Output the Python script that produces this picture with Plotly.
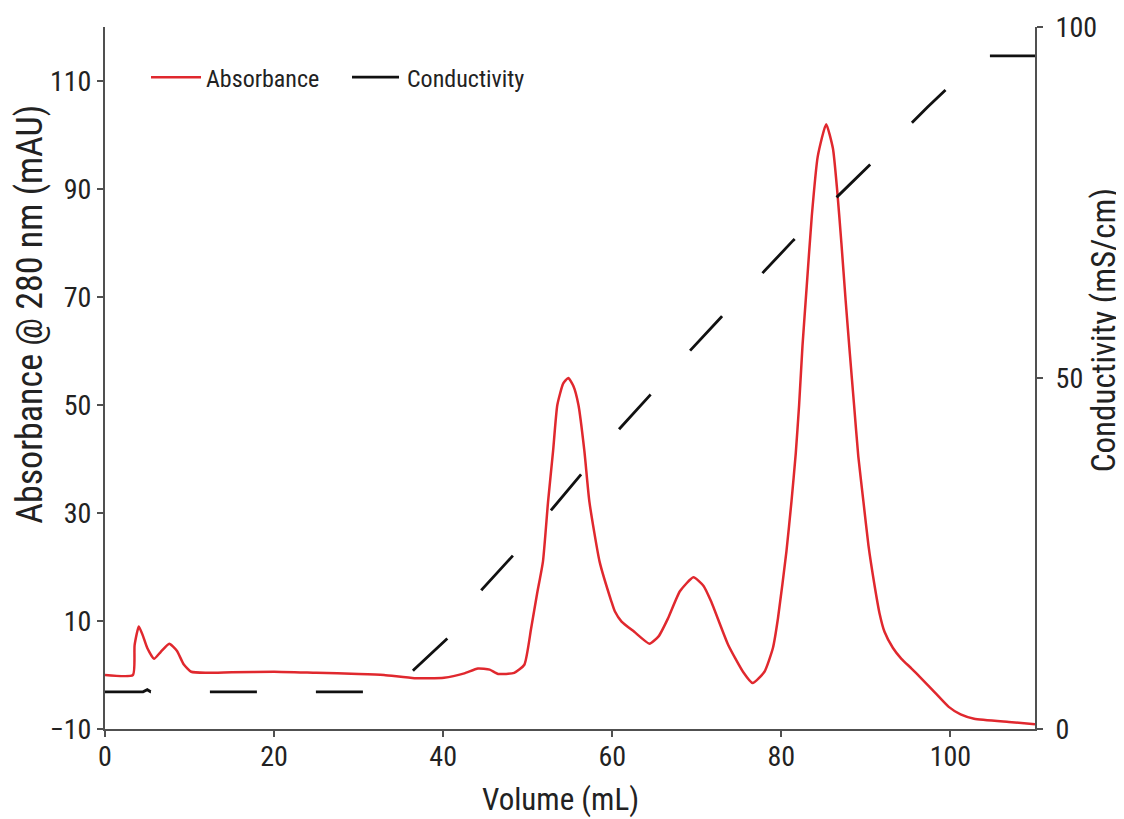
import plotly.graph_objects as go

# ---- data ----
abs_volume = [0, 3.3, 3.5, 4.0, 4.5, 5.0, 5.8, 6.6, 7.6, 8.5, 9.3, 10.2, 12, 15, 20, 25, 30, 33,
              36.6, 40.1, 42.5, 44.1, 45.5, 46.5, 48.4, 49.6, 50.4, 51.1, 51.8, 52.4, 53.0, 53.5,
              54.2, 54.8, 55.4, 56.0, 56.7, 57.3, 58.5, 59.9, 60.3, 61.1, 62.6, 64.4, 65.5, 66.6,
              68.0, 69.6, 70.8, 71.7, 73.7, 75.5, 76.6, 78.0, 79.0, 79.6, 80.6, 81.2, 81.7, 82.1,
              82.5, 83.0, 83.6, 84.3, 85.3, 86.1, 86.6, 87.1, 87.6, 88.1, 88.6, 89.1, 89.7, 90.3,
              91.0, 91.6, 92.2, 93.2, 94.2, 95.4, 96.6, 98.2, 99.8, 101.2, 102.8, 106.9, 110]
absorbance = [0, 0, 5.5, 9.0, 7.2, 5.0, 3.0, 4.3, 5.8, 4.5, 2.0, 0.6, 0.4, 0.5, 0.6, 0.4, 0.2, 0,
              -0.6, -0.5, 0.3, 1.2, 1.0, 0.2, 0.4, 1.9, 8.6, 15, 21, 32, 41.5, 50,
              54, 55, 53.5, 50, 41.5, 32, 21, 13.6, 11.8, 9.9, 8.0, 5.8, 7.2, 10.5,
              15.5, 18.1, 16.5, 13.6, 5.6, 0.5, -1.5, 0.6, 5.0, 10.5, 22.9, 32.2, 41.0, 50.0,
              61.0, 72.0, 85.0, 96.0, 102, 97.5, 89.8, 80.0, 69.4, 59.5, 50.0, 40.5, 32.2, 24.0,
              16.8, 11.5, 8.0, 5.0, 3.0, 1.2, -0.7, -3.3, -5.9, -7.3, -8.1, -8.7, -9.1]

cond_volume = [0, 4.5, 5.0, 5.4, 34, 36.5, 40.6, 44.6, 48.4, 52.7, 56.3, 60.8, 64.5, 69.2,
               72.9, 77.8, 81.4, 86.5, 91.1, 97.3, 100.0, 103.3, 110]
conductivity = [5.3, 5.3, 5.6, 5.3, 5.3, 8.4, 13.0, 19.9, 24.9, 31.1, 36.3, 42.7, 47.6, 53.9,
                58.7, 64.9, 69.6, 75.7, 81.1, 88.6, 91.7, 95.9, 95.9]

x_ticks = [0, 20, 40, 60, 80, 100]
y_ticks = [-10, 10, 30, 50, 70, 90, 110]
y2_ticks = [0, 50, 100]

FONT = "Liberation Sans Narrow, Roboto Condensed, Arial Narrow, Roboto, sans-serif"
AXIS_COLOR = "#505050"
TEXT_COLOR = "#222222"

fig = go.Figure()
fig.add_trace(go.Scatter(
    x=abs_volume, y=absorbance, name="Absorbance", mode="lines",
    line=dict(color="#e0282e", width=2.5, shape="spline", smoothing=0.5),
    yaxis="y"))
fig.add_trace(go.Scatter(
    x=cond_volume, y=conductivity, name="Conductivity", mode="lines",
    line=dict(color="#111111", width=2.8, dash="47px,59px"),
    yaxis="y2"))

axis_common = dict(showgrid=False, zeroline=False, showline=True, linecolor=AXIS_COLOR,
                   linewidth=2, ticks="outside", ticklen=6, tickwidth=1.5,
                   tickcolor=AXIS_COLOR, tickfont=dict(size=28), automargin=False)

# the page body has an 8px margin, so the figure is sized to fit the 1124x819 window
fig.update_layout(
    width=1116, height=811,
    margin=dict(l=97, r=89, t=19, b=90),
    paper_bgcolor="white", plot_bgcolor="white",
    font=dict(family=FONT, color=TEXT_COLOR, size=26),
    showlegend=True,
    legend=dict(orientation="h", x=0.0441, xanchor="left", y=0.928, yanchor="middle",
                bgcolor="rgba(0,0,0,0)", font=dict(size=24, color=TEXT_COLOR),
                itemwidth=50, entrywidth=136, entrywidthmode="pixels"),
    xaxis=dict(range=[0, 110], tickvals=x_ticks, ticklabelstandoff=-5, **axis_common),
    yaxis=dict(range=[-10, 120], tickvals=y_ticks, **axis_common),
    yaxis2=dict(range=[0, 100], tickvals=y2_ticks, overlaying="y", side="right",
                ticklabelstandoff=7, **axis_common),
    annotations=[
        dict(text="Volume (mL)", xref="paper", yref="paper", x=0.490, y=-0.100,
             xanchor="center", yanchor="middle", showarrow=False, font=dict(size=31)),
        dict(text="Absorbance @ 280 nm (mAU)", xref="paper", yref="paper", x=-0.0806, y=0.590,
             xanchor="center", yanchor="middle", textangle=-90, showarrow=False,
             font=dict(size=36)),
        dict(text="Conductivity (mS/cm)", xref="paper", yref="paper", x=1.073, y=0.568,
             xanchor="center", yanchor="middle", textangle=-90, showarrow=False,
             font=dict(size=33)),
    ],
)

fig.write_html("out.html")
